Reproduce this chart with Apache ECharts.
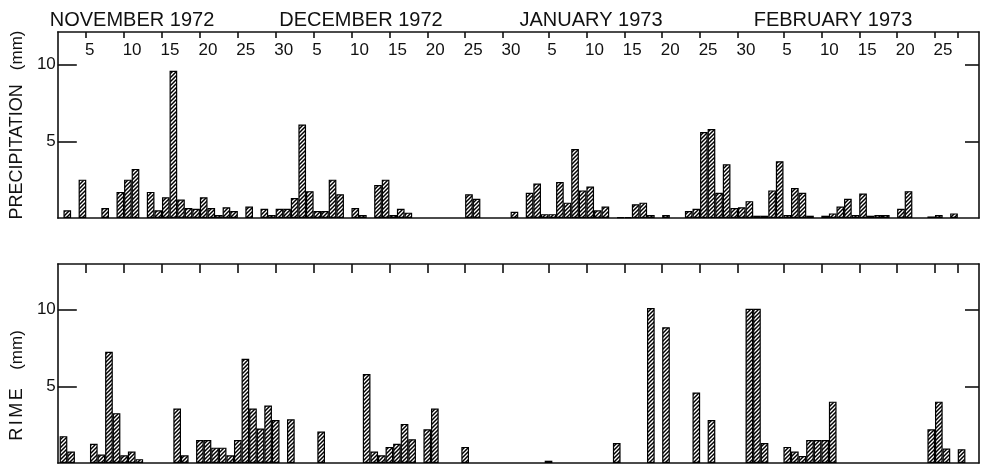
<!DOCTYPE html>
<html><head><meta charset="utf-8">
<script src="https://cdn.jsdelivr.net/npm/echarts@6/dist/echarts.min.js"></script>
<style>html,body{margin:0;padding:0;background:#fff}#c{width:986px;height:464px}</style>
</head><body><div id="c"></div>
<script>
// ---- DATA (positions along the day axis, 1 unit = 1 day from 1 Nov 1972) ----
const months = ['NOVEMBER 1972', 'DECEMBER 1972', 'JANUARY 1973', 'FEBRUARY 1973'];
const tickDays = [5,10,15,20,25,30,35,40,45,50,55,60,66,71,76,81,86,91,97,102,107,112,117];
const tickLabels = ['5','10','15','20','25','30','5','10','15','20','25','30','5','10','15','20','25','30','5','10','15','20','25'];
const endTick = 120;
const yTicks = [5, 10];

const precipPos = [2.5,4.5,7.5,9.5,10.5,11.5,13.5,14.5,15.5,16.5,17.5,18.5,19.5,20.5,21.5,22.5,23.5,24.5,26.5,28.5,29.5,30.5,31.5,32.5,33.5,34.5,35.5,36.5,37.5,38.5,40.5,41.5,43.5,44.5,45.5,46.5,47.5,55.5,56.5,61.5,63.5,64.5,65.5,66.5,67.5,68.5,69.5,70.5,71.5,72.5,73.5,75.5,76.5,77.5,78.5,79.5,81.5,84.5,85.5,86.5,87.5,88.5,89.5,90.5,91.5,92.5,93.5,94.5,95.5,96.5,97.5,98.5,99.5,100.5,102.5,103.5,104.5,105.5,106.5,107.5,108.5,109.5,110.5,112.5,113.5,116.5,117.5,119.5];
const precipMm  = [0.5,2.5,0.65,1.7,2.5,3.2,1.7,0.5,1.35,9.6,1.2,0.65,0.6,1.35,0.65,0.2,0.7,0.45,0.75,0.6,0.2,0.6,0.6,1.3,6.1,1.75,0.45,0.45,2.5,1.55,0.65,0.2,2.15,2.5,0.2,0.6,0.35,1.55,1.25,0.4,1.65,2.25,0.25,0.25,2.35,1.0,4.5,1.8,2.05,0.5,0.75,0.05,0.05,0.9,1.0,0.2,0.2,0.45,0.6,5.6,5.8,1.65,3.5,0.65,0.7,1.1,0.15,0.15,1.8,3.7,0.2,1.95,1.65,0.15,0.15,0.3,0.75,1.25,0.2,1.6,0.15,0.2,0.2,0.6,1.75,0.1,0.2,0.3];

const rimePos = [2,3,6,7,8,9,10,11,12,17,18,20,21,22,23,24,25,26,27,28,29,30,32,36,42,43,44,45,46,47,48,50,51,55,66,75,79.5,81.5,85.5,87.5,92.5,93.5,94.5,97.5,98.5,99.5,100.5,101.5,102.5,103.5,116.5,117.5,118.5,120.5];
const rimeMm  = [1.75,0.75,1.25,0.55,7.25,3.25,0.5,0.75,0.25,3.55,0.5,1.5,1.5,1.0,1.0,0.5,1.5,6.8,3.55,2.25,3.75,2.8,2.85,2.05,5.8,0.75,0.5,1.05,1.25,2.55,1.55,2.2,3.55,1.05,0.15,1.3,10.1,8.85,4.6,2.8,10.05,10.05,1.3,1.05,0.75,0.45,1.5,1.5,1.5,4.0,2.2,4.0,0.95,0.9];

// ---- STYLE / LAYOUT ----
const FONT = "'Liberation Sans', Arial, Helvetica, sans-serif";
const INK = '#111';
const X_MIN = 1.25, X_MAX = 122.8;

function hatch() {
  const c = document.createElement('canvas');
  c.width = 4; c.height = 4;
  const g = c.getContext('2d');
  g.fillStyle = '#fff'; g.fillRect(0, 0, 4, 4);
  g.strokeStyle = '#000'; g.lineWidth = 1.5;
  g.beginPath();
  g.moveTo(0, 4); g.lineTo(4, 0);
  g.moveTo(-1, 1); g.lineTo(1, -1);
  g.moveTo(3, 5); g.lineTo(5, 3);
  g.stroke();
  return c;
}
const pattern = { image: hatch(), repeat: 'repeat' };
const lineSt = { color: INK, width: 1.6 };

function xAxisDef(grid, pos, tickLen, withLabels) {
  return {
    type: 'value', gridIndex: grid, position: pos, min: X_MIN, max: X_MAX,
    splitLine: { show: false },
    axisLine: { show: true, onZero: false, lineStyle: lineSt },
    axisTick: tickLen ? { show: true, inside: true, length: tickLen, customValues: tickDays.concat([endTick]), lineStyle: lineSt } : { show: false },
    axisLabel: withLabels ? {
      show: true, inside: true, margin: 10, customValues: tickDays,
      formatter: v => { const t = tickLabels[tickDays.indexOf(v)]; return (t.length > 1 ? '{d|' : '{s|') + t + '}'; },
      rich: {
        d: { fontSize: 17, fontFamily: FONT, color: INK, padding: [0, 0, 0, 16] },
        s: { fontSize: 17, fontFamily: FONT, color: INK, padding: [0, 0, 0, 7] }
      }
    } : { show: false }
  };
}
function yLeft(grid, max, name, gap, rich) {
  return {
    type: 'value', gridIndex: grid, position: 'left', min: 0, max: max,
    splitLine: { show: false },
    axisLine: { show: true, onZero: false, lineStyle: lineSt },
    axisTick: { show: true, inside: true, length: 19, customValues: yTicks, lineStyle: lineSt },
    axisLabel: { show: true, margin: 2, customValues: yTicks, fontSize: 17, fontFamily: FONT, color: INK },
    name: name, nameLocation: 'middle', nameGap: gap,
    nameTextStyle: { color: INK, fontFamily: FONT, fontSize: 18, rich: rich }
  };
}
function yRight(grid, max) {
  return {
    type: 'value', gridIndex: grid, position: 'right', min: 0, max: max,
    splitLine: { show: false },
    axisLine: { show: true, onZero: false, lineStyle: lineSt },
    axisTick: { show: true, inside: true, length: 14, customValues: yTicks, lineStyle: lineSt },
    axisLabel: { show: false }
  };
}

const monthX = [132, 361, 591, 833];

const chart = echarts.init(document.getElementById('c'), null, { renderer: 'canvas' });
chart.setOption({
  backgroundColor: '#fff',
  animation: false,
  grid: [
    { left: 48, right: 7, top: 32, height: 186 },
    { left: 48, right: 7, top: 264, height: 199 }
  ],
  xAxis: [
    xAxisDef(0, 'top', 6, true),
    xAxisDef(0, 'bottom', 0, false),
    xAxisDef(1, 'top', 9, false),
    xAxisDef(1, 'bottom', 0, false)
  ],
  yAxis: [
    yLeft(0, 186 / 15.34, '{a|PRECIPITATION}{b|(mm)}', 25, {
      a: { fontSize: 18, fontFamily: FONT, color: INK },
      b: { fontSize: 17, fontFamily: FONT, color: INK, padding: [0, 0, 0, 14] }
    }),
    yRight(0, 186 / 15.34),
    yLeft(1, 199 / 15.34, '{r|R}{r|I}{r|M}{r|E}{b|(mm)}', 23, {
      r: { fontSize: 18, fontFamily: FONT, color: INK, padding: [0, 2.5, 0, 0] },
      b: { fontSize: 17, fontFamily: FONT, color: INK, padding: [0, 44, 0, 16] }
    }),
    yRight(1, 199 / 15.34)
  ],
  series: [
    {
      type: 'bar', xAxisIndex: 0, yAxisIndex: 0, barWidth: 7.66,
      data: precipPos.map((p, i) => [p, precipMm[i]]),
      itemStyle: { color: pattern, borderColor: '#000', borderWidth: 1.2 }
    },
    {
      type: 'bar', xAxisIndex: 2, yAxisIndex: 2, barWidth: 7.66,
      data: rimePos.map((p, i) => [p, rimeMm[i]]),
      itemStyle: { color: pattern, borderColor: '#000', borderWidth: 1.2 }
    }
  ],
  graphic: months.map((m, i) => ({
    type: 'text', x: monthX[i], y: 20,
    style: { text: m, fontSize: 20, fontFamily: FONT, fill: INK, align: 'center', verticalAlign: 'middle' }
  }))
});
</script></body></html>
